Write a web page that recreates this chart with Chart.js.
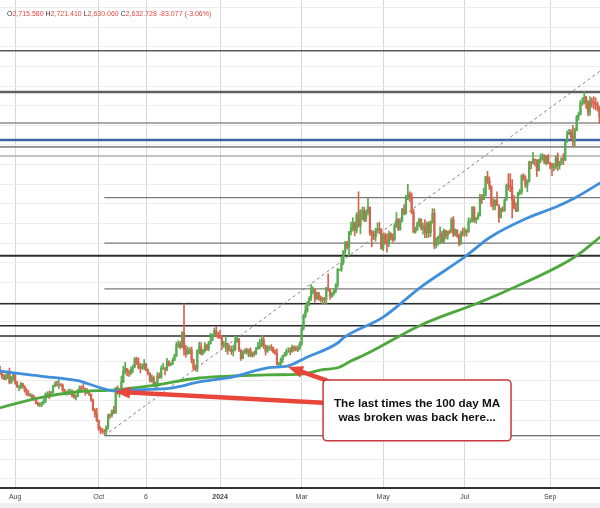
<!DOCTYPE html>
<html>
<head>
<meta charset="utf-8">
<title>Gold daily - 100 day MA</title>
<script src="https://cdn.jsdelivr.net/npm/chart.js@4.4.1/dist/chart.umd.min.js"></script>
<style>
  html, body { margin: 0; padding: 0; background: #fff; }
  canvas { display: block; }
</style>
</head>
<body>
<canvas id="goldChart" width="600" height="508"></canvas>
<script>
// Daily candles, one entry per trading day (index 0 = Jul 20 2023)
const firstOpen = 1977;
const closes = [
  1969, 1962, 1954, 1965, 1972, 1945, 1959, 1965, // Jul 23
  1944, 1934, 1934, 1943, 1936, 1925, 1915, 1913, 1914, 1907, 1902, 1892, 1889, 1889, 1895, 1898, 1915, 1917, 1914, 1920, 1937, 1942, 1940, // Aug
  1940, 1939, 1926, 1916, 1919, 1919, 1922, 1913, 1908, 1910, 1924, 1934, 1931, 1930, 1920, 1925, 1916, 1901, 1875, 1865, 1849, // Sep
  1828, 1822, 1821, 1820, 1833, 1862, 1861, 1874, 1868, 1932, 1920, 1923, 1947, 1974, 1981, 1973, 1971, 1979, 1985, 2006, 1996, 1983, // Oct
  1982, 1986, 1992, 1977, 1969, 1950, 1958, 1940, 1946, 1963, 1959, 1981, 1981, 1978, 1999, 1990, 1992, 2002, 2014, 2041, 2044, 2036, // Nov
  2072, 2029, 2019, 2025, 2028, 2004, 1982, 1980, 2027, 2036, 2019, 2027, 2040, 2031, 2045, 2053, 2067, 2077, 2065, 2063, // Dec
  2059, 2041, 2043, 2045, 2028, 2030, 2024, 2029, 2049, 2056, 2028, 2006, 2023, 2029, 2022, 2029, 2014, 2020, 2018, 2032, 2037, 2039, // Jan 24
  2054, 2039, 2025, 2035, 2035, 2034, 2024, 2020, 1992, 1992, 2004, 2013, 2017, 2025, 2025, 2024, 2035, 2031, 2029, 2034, 2044, // Feb
  2083, 2114, 2128, 2148, 2160, 2179, 2182, 2158, 2174, 2162, 2155, 2160, 2157, 2186, 2181, 2165, 2172, 2178, 2194, 2233, 2233, // Mar
  2251, 2280, 2300, 2290, 2329, 2339, 2352, 2333, 2372, 2344, 2383, 2383, 2361, 2379, 2392, 2327, 2322, 2316, 2332, 2337, 2335, 2286, // Apr
  2320, 2303, 2301, 2324, 2314, 2309, 2346, 2360, 2336, 2358, 2386, 2376, 2415, 2425, 2420, 2379, 2329, 2334, 2351, 2361, 2338, 2343, 2327, // May
  2350, 2327, 2355, 2376, 2294, 2311, 2316, 2324, 2303, 2333, 2319, 2330, 2328, 2360, 2322, 2334, 2319, 2298, 2327, 2326, // Jun
  2332, 2330, 2356, 2356, 2392, 2359, 2364, 2371, 2415, 2411, 2422, 2469, 2459, 2445, 2400, 2396, 2409, 2397, 2365, 2387, 2384, 2410, 2447, // Jul
  2446, 2443, 2410, 2390, 2382, 2427, 2431, 2472, 2465, 2447, 2456, 2507, 2504, 2514, 2512, 2485, 2512, 2518, 2524, 2504, 2521, 2503, // Aug
  2500, 2493, 2495, 2517, 2497, 2506, 2516, 2512, 2558, 2578, 2582, 2570, 2559, 2587, 2622, 2628, 2657, 2657, 2672, 2658, 2634, // Sep
  2662, 2659, 2656, 2653, 2644, 2622 // Oct
];
const highs = [
  1987, 1972, 1966, 1966, 1975, 1982, 1961, 1969,
  1966, 1949, 1938, 1946, 1943, 1937, 1930, 1925, 1918, 1915, 1912, 1907, 1896, 1894, 1896, 1903, 1919, 1922, 1924, 1923, 1939, 1948, 1949,
  1953, 1943, 1942, 1929, 1924, 1928, 1929, 1927, 1918, 1915, 1928, 1937, 1937, 1947, 1931, 1930, 1926, 1916, 1903, 1879, 1880,
  1850, 1833, 1829, 1826, 1835, 1865, 1866, 1876, 1885, 1933, 1937, 1930, 1962, 1987, 1997, 1981, 1977, 1985, 1990, 2009, 2010, 2008,
  1994, 1993, 2004, 1994, 1980, 1971, 1965, 1962, 1947, 1971, 1970, 1988, 1994, 1984, 2007, 2001, 1996, 2008, 2018, 2048, 2052, 2050,
  2075, 2146, 2040, 2036, 2034, 2036, 2005, 1990, 2029, 2048, 2047, 2030, 2047, 2043, 2050, 2071, 2069, 2084, 2088, 2073,
  2078, 2065, 2050, 2064, 2046, 2041, 2038, 2040, 2063, 2062, 2058, 2029, 2026, 2031, 2033, 2031, 2034, 2023, 2025, 2035, 2048, 2056,
  2065, 2066, 2041, 2040, 2039, 2042, 2036, 2029, 2031, 1997, 2008, 2015, 2022, 2031, 2034, 2034, 2041, 2039, 2038, 2039, 2049,
  2088, 2119, 2141, 2152, 2164, 2195, 2189, 2184, 2176, 2175, 2166, 2163, 2162, 2188, 2222, 2183, 2175, 2185, 2197, 2236, 2234,
  2266, 2281, 2305, 2305, 2330, 2354, 2365, 2354, 2378, 2431, 2385, 2392, 2392, 2385, 2417, 2390, 2333, 2331, 2338, 2352, 2353, 2337,
  2326, 2326, 2324, 2331, 2327, 2324, 2350, 2378, 2363, 2360, 2389, 2398, 2422, 2450, 2431, 2428, 2386, 2341, 2354, 2364, 2362, 2351, 2360,
  2354, 2355, 2357, 2388, 2387, 2314, 2318, 2342, 2330, 2336, 2333, 2331, 2334, 2365, 2368, 2336, 2333, 2323, 2331, 2339,
  2339, 2335, 2365, 2363, 2393, 2392, 2366, 2378, 2425, 2424, 2440, 2470, 2483, 2469, 2446, 2413, 2411, 2431, 2398, 2390, 2393, 2413, 2451,
  2477, 2477, 2462, 2421, 2403, 2430, 2437, 2475, 2477, 2472, 2461, 2509, 2507, 2531, 2514, 2513, 2514, 2527, 2528, 2525, 2523, 2526,
  2506, 2504, 2503, 2523, 2530, 2509, 2518, 2528, 2560, 2586, 2590, 2589, 2600, 2593, 2625, 2634, 2664, 2670, 2685, 2674, 2663,
  2673, 2670, 2673, 2670, 2660, 2649
];
const lows = [
  1966, 1955, 1953, 1952, 1955, 1942, 1943, 1950,
  1941, 1933, 1925, 1929, 1931, 1921, 1913, 1911, 1909, 1903, 1900, 1891, 1885, 1884, 1884, 1890, 1894, 1911, 1904, 1912, 1919, 1935, 1936,
  1930, 1936, 1923, 1915, 1913, 1915, 1915, 1909, 1905, 1901, 1910, 1921, 1927, 1928, 1913, 1917, 1912, 1898, 1873, 1857, 1846,
  1824, 1815, 1816, 1813, 1810, 1826, 1854, 1858, 1866, 1867, 1915, 1908, 1922, 1945, 1967, 1962, 1961, 1965, 1970, 1983, 1991, 1980,
  1970, 1979, 1978, 1975, 1965, 1947, 1946, 1936, 1932, 1933, 1956, 1956, 1979, 1965, 1975, 1987, 1988, 1991, 2001, 2011, 2035, 2031,
  2034, 2015, 2010, 2017, 2018, 1995, 1977, 1975, 1973, 2018, 2016, 2016, 2022, 2027, 2026, 2043, 2052, 2063, 2061, 2058,
  2058, 2031, 2035, 2024, 2017, 2025, 2017, 2013, 2027, 2048, 2024, 2002, 2007, 2019, 2017, 2011, 2011, 2010, 2012, 2017, 2030, 2031,
  2037, 2032, 2015, 2022, 2028, 2026, 2021, 2017, 1990, 1984, 1986, 1996, 2011, 2014, 2022, 2016, 2022, 2025, 2026, 2024, 2029,
  2039, 2079, 2110, 2124, 2141, 2154, 2171, 2150, 2156, 2155, 2151, 2146, 2146, 2146, 2178, 2157, 2162, 2168, 2174, 2188, 2230,
  2228, 2245, 2273, 2285, 2268, 2321, 2331, 2319, 2326, 2341, 2324, 2359, 2355, 2355, 2372, 2320, 2291, 2309, 2305, 2326, 2324, 2285,
  2281, 2297, 2277, 2291, 2308, 2303, 2306, 2340, 2332, 2333, 2354, 2373, 2374, 2411, 2406, 2375, 2326, 2325, 2332, 2342, 2334, 2323, 2314,
  2314, 2315, 2317, 2351, 2286, 2288, 2295, 2298, 2301, 2302, 2311, 2310, 2324, 2328, 2317, 2318, 2315, 2293, 2297, 2318,
  2318, 2318, 2327, 2352, 2354, 2353, 2351, 2360, 2369, 2401, 2411, 2420, 2452, 2437, 2393, 2385, 2385, 2396, 2353, 2364, 2380, 2381, 2409,
  2435, 2431, 2364, 2387, 2380, 2381, 2423, 2425, 2460, 2441, 2431, 2456, 2490, 2501, 2497, 2470, 2484, 2505, 2511, 2502, 2499, 2502,
  2489, 2472, 2484, 2489, 2485, 2488, 2500, 2500, 2510, 2557, 2576, 2567, 2546, 2547, 2586, 2613, 2627, 2651, 2654, 2643, 2624,
  2625, 2646, 2642, 2639, 2636, 2605
];

// x axis labels (trading day index of each label)
const tickIdx = [8, 52, 77, 116, 159, 202, 245, 290];
const tickLabels = ['Aug', 'Oct', '6', '2024', 'Mar', 'May', 'Jul', 'Sep'];

// Moving averages (day index, price)
const ma100Idx = [0, 4, 21, 41, 53, 61, 74, 91, 105, 123, 141, 152, 161, 178, 181, 202, 222, 245, 258, 278, 293, 303, 317];
const ma100 = [1975, 1972, 1962, 1950, 1932, 1924, 1927, 1932, 1947, 1960, 1983, 1988, 2008, 2046, 2059, 2112, 2189, 2265, 2314, 2364, 2392, 2415, 2455];
const ma200Idx = [0, 20, 41, 61, 79, 105, 123, 141, 159, 170, 178, 185, 193, 222, 252, 268, 303, 317];
const ma200 = [1881, 1906, 1922, 1927, 1937, 1957, 1962, 1965, 1967, 1978, 1983, 2000, 2018, 2092, 2148, 2181, 2265, 2318];

// Horizontal levels
const fullLevels = [2790, 2685, 2606, 2563, 2545, 2522, 2268, 2146, 2090, 2064];
const fibLevels = [2416, 2300, 2184, 1810];
const swingLowIdx = 55;
const trendLine = [[55, 1810], [331, 2790]];

// Header values
const headerParts = [['O', '2,715.580'], ['H', '2,721.410'], ['L', '2,630.060'], ['C', '2,632.728'], ['', '-83.077 (-3.06%)']];
const noteLines = ['The last times the 100 day MA', 'was broken was back here...'];

// Styles
const xMax = 316.3;
const upColor = '#58ab50';
const downColor = '#d5644f';
const fullLevelColors = ['#5a5a5a', '#616161', '#8c8c8c', '#3b63a6', '#8a8a8a', '#b0b0b0', '#2c2c2c', '#2c2c2c', '#2c2c2c', '#2c2c2c'];
const fullLevelWidths = [1.5, 2.5, 1.5, 2.5, 1.8, 1.5, 2, 1.6, 1.6, 1.6];
const fibColors = ['#7a7a7a', '#7a7a7a', '#7a7a7a', '#444444'];
const fibWidths = [1.3, 1.3, 1.3, 1];

// Annotation box and arrows (in data units)
const noteBox = { x0: 170.3, x1: 269.4, y0: 1952, y1: 1797 };
const arrows = [
  { from: [170.3, 1894], to: [60.6, 1922] },
  { from: [172.4, 1950], to: [151.8, 1985] }
];

// Build candle datasets
const opens = closes.map((c, i) => i === 0 ? firstOpen : closes[i - 1]);
const candleColors = closes.map((c, i) => c >= opens[i] ? upColor : downColor);
const wickData = closes.map((c, i) => ({ x: i, y: [Math.min(lows[i], opens[i], c), Math.max(highs[i], opens[i], c)] }));
const bodyData = closes.map((c, i) => ({ x: i, y: [opens[i], c] }));

const levelSets = fullLevels.map((p, i) => ({
  type: 'line', data: [{ x: 0, y: p }, { x: xMax, y: p }],
  borderColor: fullLevelColors[i], borderWidth: fullLevelWidths[i], pointRadius: 0, order: 5
}));
const fibSets = fibLevels.map((p, i) => ({
  type: 'line', data: [{ x: swingLowIdx, y: p }, { x: xMax, y: p }],
  borderColor: fibColors[i], borderWidth: fibWidths[i], pointRadius: 0, order: 5
}));

// Header text and callout drawn on top
const overlayPlugin = {
  id: 'overlay',
  beforeDraw(chart) {
    const ctx = chart.ctx;
    ctx.save();
    ctx.fillStyle = '#f0f0f0';
    ctx.fillRect(0, chart.height - 5, chart.width, 5);
    ctx.restore();
  },
  afterDraw(chart) {
    const ctx = chart.ctx;
    const xs = chart.scales.x, ys = chart.scales.y;
    ctx.save();

    // OHLC header
    ctx.font = '7px "Liberation Sans"';
    ctx.textBaseline = 'alphabetic';
    let hx = 7;
    headerParts.forEach(part => {
      ctx.fillStyle = '#333';
      ctx.fillText(part[0], hx, 16);
      hx += ctx.measureText(part[0]).width;
      ctx.fillStyle = '#e0483e';
      ctx.fillText(part[1], hx, 16);
      hx += ctx.measureText(part[1] + ' ').width;
    });

    // Red arrows
    ctx.strokeStyle = '#e8463b';
    ctx.fillStyle = '#e8463b';
    ctx.lineCap = 'round';
    arrows.forEach(a => {
      const x1 = xs.getPixelForValue(a.from[0]), y1 = ys.getPixelForValue(a.from[1]);
      const x2 = xs.getPixelForValue(a.to[0]), y2 = ys.getPixelForValue(a.to[1]);
      const ang = Math.atan2(y2 - y1, x2 - x1);
      const headLen = 15, headW = 12;
      const bx = x2 - headLen * Math.cos(ang), by = y2 - headLen * Math.sin(ang);
      ctx.lineWidth = 4.5;
      ctx.beginPath(); ctx.moveTo(x1, y1); ctx.lineTo(bx, by); ctx.stroke();
      ctx.beginPath();
      ctx.moveTo(x2, y2);
      ctx.lineTo(bx + headW / 2 * Math.sin(ang), by - headW / 2 * Math.cos(ang));
      ctx.lineTo(bx - headW / 2 * Math.sin(ang), by + headW / 2 * Math.cos(ang));
      ctx.closePath(); ctx.fill();
    });

    // Callout box
    const bx0 = xs.getPixelForValue(noteBox.x0), bx1 = xs.getPixelForValue(noteBox.x1);
    const by0 = ys.getPixelForValue(noteBox.y0), by1 = ys.getPixelForValue(noteBox.y1);
    ctx.beginPath();
    ctx.roundRect(bx0, by0, bx1 - bx0, by1 - by0, 4);
    ctx.fillStyle = '#fff';
    ctx.fill();
    ctx.lineWidth = 1.5;
    ctx.strokeStyle = '#c8373a';
    ctx.stroke();
    ctx.fillStyle = '#111';
    ctx.font = 'bold 11.7px "Liberation Sans"';
    ctx.textAlign = 'center';
    ctx.textBaseline = 'middle';
    const cx = (bx0 + bx1) / 2, cy = (by0 + by1) / 2;
    ctx.fillText(noteLines[0], cx, cy - 7);
    ctx.fillText(noteLines[1], cx, cy + 7);
    ctx.restore();
  }
};

// Initialize Chart.js
const ctx = document.getElementById('goldChart').getContext('2d');
const goldChart = new Chart(ctx, {
  type: 'bar',
  data: {
    datasets: [
      {
        type: 'line', data: ma100Idx.map((x, i) => ({ x: x, y: ma100[i] })),
        borderColor: '#3f8fdc', borderWidth: 2.8, pointRadius: 0,
        cubicInterpolationMode: 'monotone', order: 1
      },
      {
        type: 'line', data: ma200Idx.map((x, i) => ({ x: x, y: ma200[i] })),
        borderColor: '#4fa83e', borderWidth: 2.8, pointRadius: 0,
        cubicInterpolationMode: 'monotone', order: 1
      },
      {
        data: bodyData, backgroundColor: candleColors, barThickness: 1.6,
        grouped: false, borderWidth: 0, order: 2
      },
      {
        data: wickData, backgroundColor: candleColors, barThickness: 1,
        grouped: false, borderWidth: 0, order: 3
      },
      {
        type: 'line', data: trendLine.map(p => ({ x: p[0], y: p[1] })),
        borderColor: '#808080', borderWidth: 1, borderDash: [3, 3], pointRadius: 0, order: 4
      },
      ...levelSets,
      ...fibSets
    ]
  },
  options: {
    responsive: false,
    animation: false,
    layout: { padding: 0 },
    plugins: { legend: { display: false }, tooltip: { enabled: false } },
    scales: {
      x: {
        type: 'linear', min: 0, max: xMax, offset: false,
        afterBuildTicks: scale => { scale.ticks = tickIdx.map(v => ({ value: v })); },
        afterFit: scale => { scale.height = 20; },
        ticks: {
          autoSkip: false, maxRotation: 0, padding: 5, color: '#444',
          font: c => ({ family: 'Liberation Sans', size: 7, weight: c.tick && c.tick.value === 116 ? 'bold' : 'normal' }),
          callback: v => tickLabels[tickIdx.indexOf(v)]
        },
        grid: { color: '#d8d8d8', drawTicks: false, offset: false },
        border: { display: true, color: '#333', width: 2 }
      },
      y: {
        min: 1677, max: 2919,
        ticks: { display: false, stepSize: 50, includeBounds: false },
        grid: { color: '#ededed', drawTicks: false },
        border: { display: false },
        afterFit: scale => { scale.width = 0; }
      }
    }
  },
  plugins: [overlayPlugin]
});
</script>
</body>
</html>
